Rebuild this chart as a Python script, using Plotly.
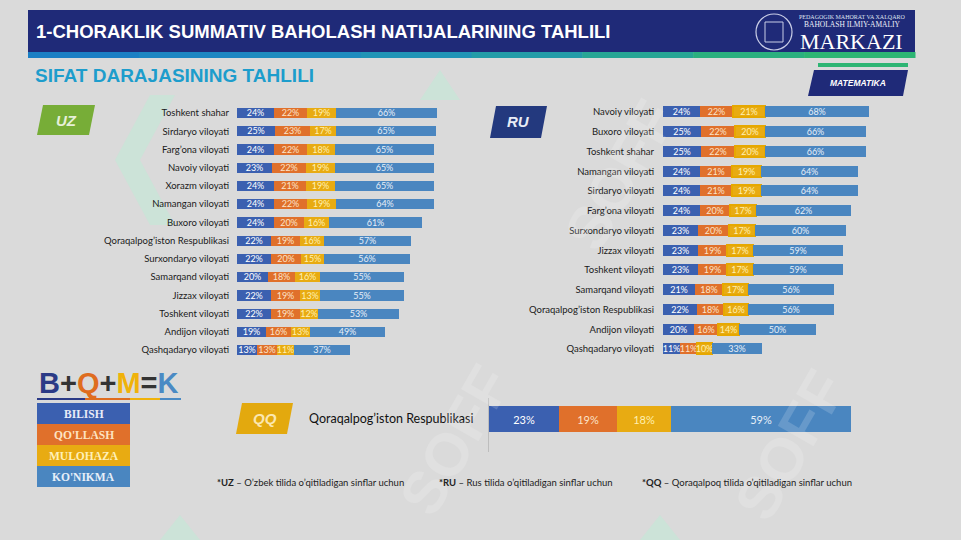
import plotly.graph_objects as go

# ---------------- data ----------------
uz_regions = ["Toshkent shahar", "Sirdaryo viloyati", "Farg’ona viloyati", "Navoiy viloyati",
              "Xorazm viloyati", "Namangan viloyati", "Buxoro viloyati",
              "Qoraqalpog’iston Respublikasi", "Surxondaryo viloyati", "Samarqand viloyati",
              "Jizzax viloyati", "Toshkent viloyati", "Andijon viloyati", "Qashqadaryo viloyati"]
uz_bilish = [24, 25, 24, 23, 24, 24, 24, 22, 22, 20, 22, 22, 19, 13]
uz_qollash = [22, 23, 22, 22, 21, 22, 20, 19, 20, 18, 19, 19, 16, 13]
uz_mulohaza = [19, 17, 18, 19, 19, 19, 16, 16, 15, 16, 13, 12, 13, 11]
uz_konikma = [66, 65, 65, 65, 65, 64, 61, 57, 56, 55, 55, 53, 49, 37]

ru_regions = ["Navoiy viloyati", "Buxoro viloyati", "Toshkent shahar", "Namangan viloyati",
              "Sirdaryo viloyati", "Farg’ona viloyati", "Surxondaryo viloyati", "Jizzax viloyati",
              "Toshkent viloyati", "Samarqand viloyati", "Qoraqalpog’iston Respublikasi",
              "Andijon viloyati", "Qashqadaryo viloyati"]
ru_bilish = [24, 25, 25, 24, 24, 24, 23, 23, 23, 21, 22, 20, 11]
ru_qollash = [22, 22, 22, 21, 21, 20, 20, 19, 19, 18, 18, 16, 11]
ru_mulohaza = [21, 20, 20, 19, 19, 17, 17, 17, 17, 17, 16, 14, 10]
ru_konikma = [68, 66, 66, 64, 64, 62, 60, 59, 59, 56, 56, 50, 33]

qq_regions = ["Qoraqalpog’iston Respublikasi"]
qq_bilish = [23]
qq_qollash = [19]
qq_mulohaza = [18]
qq_konikma = [59]

components = ["BILISH", "QO'LLASH", "MULOHAZA", "KO'NIKMA"]

# ---------------- style ----------------
W, H = 961, 540
BG = "#dadada"
C_BLUE = "#3b60b0"
C_ORANGE = "#e0702b"
C_YELLOW = "#e8ab12"
C_STEEL = "#4a86c0"
TXT_COLORS = ["#ffffff", "#fbe3c8", "#fff0b0", "#e6eef8"]
COLORS = [C_BLUE, C_ORANGE, C_YELLOW, C_STEEL]
LABEL_FONT = "Lato"


def px(x):
    return x / W


def py(y):
    return 1 - y / H


fig = go.Figure()


def add_stack(regions, series, xa, ya, width, fsize, yellow_outline=False):
    for i, (name, vals) in enumerate(zip(components, series)):
        line = dict(width=0)
        if yellow_outline and i == 2:
            line = dict(width=2, color="#e6a800")
        fig.add_trace(go.Bar(
            y=regions, x=vals, orientation="h", name=name,
            marker=dict(color=COLORS[i], line=line),
            text=[f"{v}%" for v in vals], textposition="inside",
            insidetextanchor="middle", textangle=0,
            textfont=dict(color=TXT_COLORS[i], size=fsize, family="Lato"),
            width=width, xaxis=xa, yaxis=ya, showlegend=False, hoverinfo="skip",
        ))


add_stack(uz_regions, [uz_bilish, uz_qollash, uz_mulohaza, uz_konikma], "x", "y", 0.56, 9)
add_stack(ru_regions, [ru_bilish, ru_qollash, ru_mulohaza, ru_konikma], "x2", "y2", 0.56, 9,
          yellow_outline=True)
add_stack(qq_regions, [qq_bilish, qq_qollash, qq_mulohaza, qq_konikma], "x3", "y3", 0.48, 11)

uz_x0, uz_scale = 237, 1.53
ru_x0, ru_scale = 663, 1.526
qq_x0, qq_scale = 489, 3.04

uz_top, uz_bot = 113 - 9.1, 350 + 9.1
ru_top, ru_bot = 112 - 9.9, 349 + 9.9

ax_common = dict(showgrid=False, zeroline=False, showticklabels=False, fixedrange=True)
ycommon = dict(showgrid=False, zeroline=False, ticks="", fixedrange=True,
               tickfont=dict(family=LABEL_FONT, size=9.5, color="#1a1a1a"))

fig.update_layout(
    width=W, height=H,
    margin=dict(l=0, r=0, t=0, b=0),
    paper_bgcolor=BG, plot_bgcolor="rgba(0,0,0,0)",
    barmode="stack", bargap=0,
    uniformtext=dict(minsize=8, mode="show"),
    xaxis=dict(domain=[px(uz_x0), px(uz_x0 + 140 * uz_scale)], range=[0, 140], anchor="y", **ax_common),
    yaxis=dict(domain=[py(uz_bot), py(uz_top)], anchor="x", autorange="reversed",
               ticklabelstandoff=7, **ycommon),
    xaxis2=dict(domain=[px(ru_x0), px(ru_x0 + 140 * ru_scale)], range=[0, 140], anchor="y2", **ax_common),
    yaxis2=dict(domain=[py(ru_bot), py(ru_top)], anchor="x2", autorange="reversed",
                ticklabelstandoff=8, **ycommon),
    xaxis3=dict(domain=[px(qq_x0), px(qq_x0 + 130 * qq_scale)], range=[0, 130], anchor="y3", **ax_common),
    yaxis3=dict(domain=[py(452), py(398)], anchor="x3", range=[-0.611, 0.389],
                showline=True, linecolor="#bdbdbd", linewidth=1, showgrid=False, zeroline=False,
                ticks="", fixedrange=True, ticklabelstandoff=12,
                tickfont=dict(family=LABEL_FONT, size=12.5, color="#111111")),
)

shapes = []
annots = []


def note(x, y, text, font, xanchor="center", yanchor="middle", **kw):
    annots.append(dict(x=px(x), y=py(y), xref="paper", yref="paper", text=text, showarrow=False,
                       xanchor=xanchor, yanchor=yanchor, font=font, **kw))


# faint watermark shapes (mint chevrons)
mint = "rgba(190,236,214,0.5)"
for path in [
    "M {} {} L {} {} L {} {} L {} {} Z".format(px(150), py(95), px(175), py(95), px(140), py(160), px(115), py(160)),
    "M {} {} L {} {} L {} {} L {} {} Z".format(px(115), py(160), px(140), py(160), px(175), py(225), px(150), py(225)),
    "M {} {} L {} {} L {} {} Z".format(px(160), py(540), px(180), py(515), px(200), py(540)),
    "M {} {} L {} {} L {} {} Z".format(px(640), py(540), px(660), py(515), px(680), py(540)),
    "M {} {} L {} {} L {} {} Z".format(px(420), py(100), px(440), py(70), px(460), py(100)),
]:
    shapes.append(dict(type="path", path=path, xref="paper", yref="paper",
                       fillcolor=mint, line=dict(width=0), layer="below"))
for (wx, wy) in [(620, 175), (455, 440), (790, 445)]:
    note(wx, wy, "<b>SOFF</b>", dict(family="Liberation Sans", size=60, color="rgba(255,255,255,0.16)"),
         textangle=-60)

# header banner
shapes.append(dict(type="rect", xref="paper", yref="paper", x0=px(28), x1=px(915), y0=py(52), y1=py(10),
                   fillcolor="#1f2a78", line=dict(width=0)))
grad = ["#1b7fc4", "#1c86c2", "#1e8cbf", "#2094b6", "#239ca8", "#27a695", "#2bb07f", "#2db573"]
seg = (915 - 28) / len(grad)
for i, c in enumerate(grad):
    shapes.append(dict(type="rect", xref="paper", yref="paper", x0=px(28 + i * seg), x1=px(28 + (i + 1) * seg + 0.5),
                       y0=py(58), y1=py(52), fillcolor=c, line=dict(width=0)))
note(34, 32, "<b>1-CHORAKLIK SUMMATIV BAHOLASH NATIJALARINING TAHLILI</b>",
     dict(family="Liberation Sans", size=18.5, color="white"), xanchor="left")
# logo
shapes.append(dict(type="circle", xref="paper", yref="paper", x0=px(756), x1=px(792), y0=py(50), y1=py(14),
                   line=dict(color="#c9cde6", width=1.2), fillcolor="rgba(0,0,0,0)"))
shapes.append(dict(type="rect", xref="paper", yref="paper", x0=px(765), x1=px(783), y0=py(42), y1=py(22),
                   line=dict(color="#c9cde6", width=1), fillcolor="rgba(0,0,0,0)"))
note(852, 17, "PEDAGOGIK MAHORAT VA XALQARO", dict(family="Liberation Serif", size=6, color="#dfe2f0"))
note(852, 25, "BAHOLASH ILMIY-AMALIY", dict(family="Liberation Serif", size=7.5, color="#eef0f8"))
note(851, 41, "MARKAZI", dict(family="Liberation Serif", size=22, color="white"))

# section title
note(33, 76, "<b>SIFAT DARAJASINING TAHLILI</b>", dict(family="Liberation Sans", size=19, color="#1d9dcc"),
     xanchor="left")

# MATEMATIKA badge
shapes.append(dict(type="rect", xref="paper", yref="paper", x0=px(818), x1=px(908), y0=py(67), y1=py(63),
                   fillcolor="#2db573", line=dict(width=0)))
shapes.append(dict(type="path", xref="paper", yref="paper",
                   path="M {} {} L {} {} L {} {} L {} {} Z".format(px(814), py(70), px(908), py(70),
                                                                  px(903), py(96), px(808), py(96)),
                   fillcolor="#1f2a78", line=dict(width=0)))
note(858, 83, "<b><i>MATEMATIKA</i></b>", dict(family="Liberation Sans", size=8.5, color="white"))


def badge(x0, x1, y0, y1, color, text, tcolor):
    sk = 6
    shapes.append(dict(type="path", xref="paper", yref="paper",
                       path="M {} {} L {} {} L {} {} L {} {} Z".format(px(x0 + sk), py(y0), px(x1), py(y0),
                                                                      px(x1 - sk), py(y1), px(x0), py(y1)),
                       fillcolor=color, line=dict(width=0)))
    note((x0 + x1) / 2, (y0 + y1) / 2, f"<b><i>{text}</i></b>",
         dict(family="Liberation Sans", size=15, color=tcolor))


badge(37, 95, 105, 135, "#77ad37", "UZ", "#e6f0d8")
badge(490, 547, 106, 138, "#23397e", "RU", "#e8ecf6")
badge(236, 293, 403, 434, "#e3a90e", "QQ", "#fbe7b0")

# B+Q+M=K legend
note(37, 383, ("<b><span style='color:#2b3a86'>B</span><span style='color:#333'>+</span>"
               "<span style='color:#df6d1f'>Q</span><span style='color:#333'>+</span>"
               "<span style='color:#f0b20a'>M</span><span style='color:#333'>=</span>"
               "<span style='color:#4a8ac4'>K</span></b>"),
     dict(family="Liberation Sans", size=29), xanchor="left")
for (a, b, c) in [(37, 85, "#2b3a86"), (85, 130, "#df6d1f"), (130, 160, "#f0b20a"), (160, 181, "#4a8ac4")]:
    shapes.append(dict(type="rect", xref="paper", yref="paper", x0=px(a), x1=px(b), y0=py(400), y1=py(398),
                       fillcolor=c, line=dict(width=0)))
box_txt = ["#e8ecf8", "#fde3c2", "#fff0b8", "#e6eef8"]
for i, (name, c) in enumerate(zip(components, COLORS)):
    y0 = 403 + i * 21
    shapes.append(dict(type="rect", xref="paper", yref="paper", x0=px(37), x1=px(130), y0=py(y0 + 21), y1=py(y0),
                       fillcolor=c, line=dict(width=0)))
    note(83.5, y0 + 10.5, f"<b>{name}</b>", dict(family="Liberation Serif", size=11.5, color=box_txt[i]))

# footnotes
for x, bold, rest in [(215, "*UZ", " – O’zbek tilida o’qitiladigan sinflar uchun"),
                      (437, "*RU", " – Rus tilida o’qitiladigan sinflar uchun"),
                      (640, "*QQ", " – Qoraqalpoq tilida o’qitiladigan sinflar uchun")]:
    note(x, 482, f"<b>{bold}</b>{rest}", dict(family=LABEL_FONT, size=9.5, color="#222222"), xanchor="left")

fig.update_layout(shapes=shapes, annotations=annots)
fig.write_html("out.html")
